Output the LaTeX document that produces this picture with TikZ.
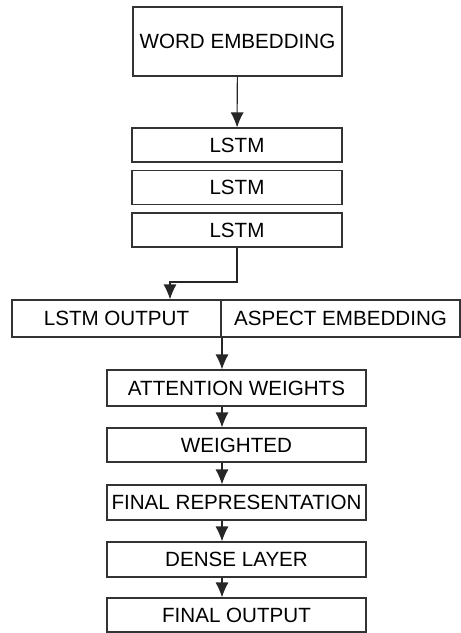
\documentclass[tikz,border=0pt]{standalone}
\usepackage{fontspec}
\setmainfont{Liberation Sans}
\usetikzlibrary{arrows.meta}

\begin{document}
\begin{tikzpicture}[x=1pt, y=-1pt, box/.style={draw=black!80, rectangle, line width=1.1pt, inner sep=0pt, font=\fontsize{20.6}{24}\selectfont}, wide/.style={minimum width=259pt, minimum height=35pt}, n/.style={-{Latex[length=15pt,width=13pt]}, line width=1.1pt, draw=black!85}]
            \useasboundingbox (0,0) rectangle (461,633);
            % nodes
            \node[box, minimum width=209pt, minimum height=69pt] (we) at (237.5,41.5) {WORD EMBEDDING};
            \node[box, minimum width=210pt, minimum height=34pt] (lstm1) at (237,145) {LSTM};
            \node[box, minimum width=210pt, minimum height=34pt] (lstm2) at (237,187.5) {LSTM};
            \node[box, minimum width=210pt, minimum height=34pt] (lstm3) at (237,230) {LSTM};
            \node[box, minimum width=209pt, minimum height=37pt] (lo) at (116.5,318.5) {LSTM OUTPUT};
            \node[box, minimum width=239pt, minimum height=37pt] (ae) at (340.5,318.5) {ASPECT EMBEDDING};
            \node[box, wide, minimum height=36pt] (att) at (236.5,388) {ATTENTION WEIGHTS};
            \node[box, wide, minimum height=34pt] (wtd) at (236.5,445) {WEIGHTED};
            \node[box, wide] (frep) at (236.5,502.5) {FINAL REPRESENTATION};
            \node[box, wide] (dense) at (236.5,559.5) {DENSE LAYER};
            \node[box, wide, minimum height=34pt] (fout) at (236.5,615) {FINAL OUTPUT};
            \coordinate (bend) at (170,282);
            \coordinate (spine) at (222,0);
            % edges
            \draw [n] (we) -- (lstm1);
            \draw [n] (lstm3.south) |- (bend) -- (bend |- lo.north);
            \draw [n] (lo.south east -| spine) -- (att.north -| spine);
            \draw [n] (att.south -| spine) -- (wtd.north -| spine);
            \draw [n] (wtd.south -| spine) -- (frep.north -| spine);
            \draw [n] (frep.south -| spine) -- (dense.north -| spine);
            \draw [n] (dense.south -| spine) -- (fout.north -| spine);
        \end{tikzpicture}
\end{document}
